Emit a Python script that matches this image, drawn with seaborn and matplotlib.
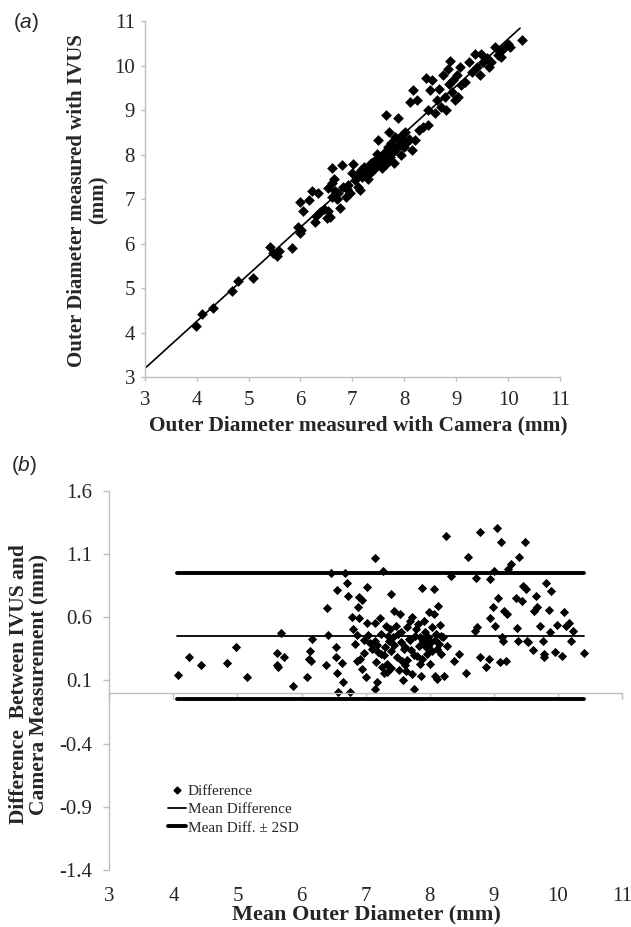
import matplotlib
matplotlib.use('Agg')
import matplotlib.pyplot as plt
import seaborn as sns
from matplotlib.lines import Line2D

# (a) outer diameter, camera vs IVUS (mm)
camera_od = [3.99, 4.11, 4.32, 4.69, 4.79, 5.08, 5.42, 5.48, 5.55, 5.58, 5.83, 5.95, 5.99, 6.01,
             5.99, 6.04, 6.17, 6.22, 6.28, 6.30, 6.34, 6.38, 6.46, 6.51, 6.53, 6.57, 6.53, 6.61,
             6.64, 6.67, 6.73, 6.77, 6.81, 6.82, 6.87, 6.92, 6.96, 7.00, 7.02, 7.05, 7.10, 7.14,
             7.16, 7.19, 7.23, 7.27, 7.31, 7.35, 7.39, 7.43, 7.47, 7.49, 7.50, 7.54, 7.58, 7.62,
             7.64, 7.66, 7.68, 7.70, 7.72, 7.75, 7.78, 7.80, 7.82, 7.85, 7.88, 7.89, 7.93, 7.96,
             7.99, 8.01, 8.05, 8.09, 8.11, 8.14, 8.16, 8.20, 8.24, 8.28, 8.36, 8.46, 8.42, 8.45,
             8.50, 8.53, 8.59, 8.63, 8.67, 8.71, 8.75, 8.79, 8.81, 8.84, 8.86, 8.89, 8.92, 8.94,
             8.98, 9.02, 9.04, 9.07, 9.10, 9.17, 9.25, 9.31, 9.37, 9.41, 9.46, 9.48, 9.52, 9.60,
             9.64, 9.68, 9.74, 9.80, 9.84, 9.87, 9.91, 9.99, 10.03, 10.26,
             7.08, 7.20, 7.33, 7.45, 7.56, 7.60, 7.70, 7.80, 7.90, 8.00, 7.65, 7.35, 6.70, 6.60,
             6.90, 6.60]
ivus_od = [4.15, 4.41, 4.55, 4.94, 5.15, 5.22, 5.92, 5.78, 5.72, 5.84, 5.89, 6.38, 6.23, 6.30,
           6.94, 6.74, 6.98, 7.19, 6.49, 6.62, 7.14, 6.71, 6.77, 6.57, 6.72, 6.60, 7.24, 7.69,
           7.46, 7.19, 7.13, 6.79, 7.76, 7.28, 7.05, 7.31, 7.13, 7.58, 7.79, 7.43, 7.28, 7.20,
           7.65, 7.50, 7.73, 7.58, 7.46, 7.80, 7.65, 7.88, 8.02, 8.32, 7.76, 7.95, 7.69, 8.06,
           8.88, 7.88, 8.17, 8.51, 7.95, 8.25, 8.06, 7.80, 8.40, 8.13, 8.81, 8.32, 7.98, 8.43,
           8.17, 8.51, 8.29, 8.36, 9.18, 8.10, 9.44, 8.32, 9.22, 8.55, 8.62, 8.66, 9.71, 9.00,
           9.44, 9.67, 8.94, 9.22, 9.48, 9.07, 9.78, 9.30, 9.00, 9.93, 9.59, 10.10, 9.41, 9.67,
           9.22, 9.78, 9.30, 9.97, 9.56, 9.63, 10.08, 9.86, 10.27, 9.97, 9.78, 10.27, 10.08, 10.16,
           9.97, 10.08, 10.42, 10.23, 10.34, 10.19, 10.38, 10.49, 10.42, 10.57,
           7.55, 7.62, 7.72, 7.83, 7.90, 8.00, 8.05, 8.15, 8.22, 8.30, 7.78, 7.60, 7.00, 7.05,
           7.22, 7.35]
fit_x = [3.0, 10.23]
fit_y = [3.19, 10.84]

# (b) Bland-Altman: mean diameter vs difference (mm)
mean_od = [4.07, 4.25, 4.43, 4.83, 4.97, 5.15, 5.61, 5.62, 5.68, 5.72, 5.64, 5.86, 6.09, 6.13,
           6.16, 6.11, 6.15, 6.40, 6.42, 6.38, 6.46, 6.54, 6.54, 6.56, 6.56, 6.57, 6.63, 6.65,
           6.68, 6.71, 6.73, 6.76, 6.79, 6.81, 6.83, 6.86, 6.87, 6.88, 6.89, 6.89, 6.91, 6.95,
           6.95, 6.98, 6.98, 7.00, 7.02, 7.02, 7.04, 7.07, 7.10, 7.14, 7.15, 7.15, 7.16, 7.17,
           7.15, 7.20, 7.22, 7.24, 7.25, 7.27, 7.28, 7.30, 7.32, 7.33, 7.34, 7.36, 7.38, 7.39,
           7.40, 7.42, 7.45, 7.47, 7.49, 7.50, 7.53, 7.55, 7.57, 7.58, 7.60, 7.62, 7.63, 7.64,
           7.67, 7.69, 7.71, 7.72, 7.73, 7.76, 7.77, 7.78, 7.80, 7.82, 7.83, 7.85, 7.87, 7.88,
           7.89, 7.91, 7.92, 7.94, 7.96, 7.98, 7.99, 8.01, 8.02, 8.04, 8.06, 8.07, 8.08, 8.10,
           8.11, 8.13, 8.14, 8.16, 8.18, 8.21, 8.23, 8.25, 8.27, 8.33, 8.38, 8.46, 8.56, 8.60,
           8.70, 8.72, 8.74, 8.78, 8.79, 8.88, 8.94, 8.94, 8.93, 8.99, 9.01, 9.02, 9.05, 9.07,
           9.11, 9.13, 9.14, 9.10, 9.19, 9.16, 9.21, 9.22, 9.27, 9.34, 9.36, 9.38, 9.40, 9.44,
           9.46, 9.49, 9.50, 9.52, 9.53, 9.61, 9.62, 9.66, 9.68, 9.72, 9.77, 9.78, 9.82, 9.79,
           9.89, 9.86, 9.88, 9.96, 9.98, 10.07, 10.09, 10.12, 10.18, 10.21, 10.24, 10.40,
           7.35, 7.45, 7.55, 7.62, 7.70, 7.75, 7.85, 7.92, 7.97, 8.03, 8.08, 8.12, 8.18, 7.88,
           7.40, 7.52, 7.65, 7.28, 7.18, 7.24]
diff_od = [0.146, 0.286, 0.223, 0.236, 0.361, 0.128, 0.316, 0.223, 0.474, 0.286, 0.207, 0.056,
           0.130, 0.331, 0.427, 0.270, 0.252, 0.673, 0.461, 0.223, 0.951, 0.281, 0.361, 0.816,
           0.159, 0.011, 0.236, 0.083, 0.951, 0.872, 0.768, 0.011, 0.604, 0.504, 0.384, 0.255,
           0.459, 0.681, 0.758, 0.594, 0.268, 0.737, 0.186, 0.419, 0.318, 0.128, 0.835, 0.554,
           0.459, 0.392, 0.347, 1.068, 0.554, 0.408, 0.247, 0.088, 0.035, 0.321, 0.594, 0.467,
           0.202, 0.962, 0.300, 0.361, 0.533, 0.162, 0.228, 0.414, 0.506, 0.784, 0.329, 0.440,
           0.652, 0.533, 0.281, 0.467, 0.625, 0.400, 0.255, 0.101, 0.347, 0.223, 0.175, 0.520,
           0.427, 0.572, 0.339, 0.599, 0.149, 0.035, 0.453, 0.506, 0.294, 0.546, 0.374, 0.228,
           0.136, 0.832, 0.414, 0.567, 0.480, 0.361, 0.308, 0.440, 0.639, 0.228, 0.400, 0.520,
           0.625, 0.824, 0.136, 0.467, 0.109, 0.684, 0.387, 0.541, 0.308, 0.440, 0.136, 1.245,
           0.374, 0.922, 0.255, 0.308, 0.157, 1.076, 0.488, 0.911, 0.525, 0.281, 1.274, 0.202,
           0.594, 0.903, 0.265, 0.678, 0.962, 0.527, 1.301, 0.753, 1.195, 0.445, 0.414, 0.241,
           0.255, 0.652, 0.625, 0.983, 1.023, 0.753, 0.514, 0.408, 1.076, 0.731, 0.843, 1.192,
           0.824, 0.414, 0.400, 0.339, 0.652, 0.768, 0.678, 0.533, 0.414, 0.308, 0.872, 0.286,
           0.803, 0.657, 0.485, 0.321, 0.538, 0.294, 0.639, 0.527, 0.551, 0.414, 0.488, 0.313,
           0.45, 0.38, 0.48, 0.36, 0.42, 0.30, 0.44, 0.40, 0.37, 0.33, 0.42, 0.35, 0.45, 0.27,
           0.20, 0.18, 0.26, 0.16, 0.38, 0.31]
mean_diff = 0.452
upper_lim = 0.949
lower_lim = -0.045
lim_x = [4.06, 10.40]

sns.set_style('white')
plt.rcParams['font.family'] = ['Liberation Serif', 'DejaVu Serif']
plt.rcParams['axes.unicode_minus'] = False
plt.rcParams['mathtext.fontset'] = 'custom'
plt.rcParams['mathtext.it'] = 'Liberation Sans:italic'
plt.rcParams['mathtext.rm'] = 'Liberation Sans'

grey = '#bfbfbf'
fig = plt.figure(figsize=(6.31, 9.27), dpi=100)
axa = fig.add_axes([0.2293, 0.5933, 0.6582, 0.384])
axb = fig.add_axes([0.1732, 0.0615, 0.8125, 0.4092])

# ---- panel (a)
sns.scatterplot(x=camera_od, y=ivus_od, ax=axa, marker='D', color='black', s=30, linewidth=0)
axa.plot(fit_x, fit_y, color='black', lw=1.2)
axa.set_xlim(3, 11)
axa.set_ylim(3, 11)
axa.set_xticks(range(3, 12))
axa.set_yticks(range(3, 12))
for s in ['top', 'right']:
    axa.spines[s].set_visible(False)
for s in ['left', 'bottom']:
    axa.spines[s].set_color(grey)
    axa.spines[s].set_linewidth(1)
axa.tick_params(bottom=True, left=True, direction='out', length=3, width=1, color=grey,
                labelsize=15)
axa.tick_params(axis='x', pad=7)
axa.tick_params(axis='y', pad=4)
axa.set_xlabel('Outer Diameter measured with Camera (mm)', fontsize=15.4, fontweight='bold')
axa.xaxis.set_label_coords(0.514, -0.135)
axa.xaxis.label.set_va('center')
axa.set_ylabel('Outer Diameter measured with IVUS\n(mm)', fontsize=15, fontweight='bold',
               linespacing=1.1)
axa.yaxis.set_label_coords(-0.1365, 0.497)
axa.yaxis.label.set_va('center')

# ---- panel (b)
sns.scatterplot(x=mean_od, y=diff_od, ax=axb, marker='D', color='black', s=22, linewidth=0)
axb.plot(lim_x, [mean_diff, mean_diff], color='black', lw=1.3)
axb.plot(lim_x, [upper_lim, upper_lim], color='black', lw=2.8)
axb.plot(lim_x, [lower_lim, lower_lim], color='black', lw=2.8)
axb.set_xlim(3, 11)
axb.set_ylim(-1.4, 1.6)
yt = [-1.4, -0.9, -0.4, 0.1, 0.6, 1.1, 1.6]
axb.set_yticks(yt)
axb.set_yticklabels(['%.1f' % v for v in yt])
axb.set_xticks(range(3, 12))
for s in ['top', 'right']:
    axb.spines[s].set_visible(False)
axb.spines['bottom'].set_position(('data', 0))
for s in ['left', 'bottom']:
    axb.spines[s].set_color(grey)
    axb.spines[s].set_linewidth(1)
axb.tick_params(axis='y', left=True, direction='out', length=4, width=1, color=grey,
                labelsize=15, pad=8)
axb.tick_params(axis='x', bottom=True, direction='out', length=4, width=1, color=grey,
                labelbottom=False)

# tick labels sit below the plot, the axis line itself crosses at 0
sec = axb.secondary_xaxis('bottom')
sec.set_xticks(range(3, 12))
sec.spines['bottom'].set_visible(False)
sec.tick_params(length=0, labelsize=15, pad=12)

axb.set_xlabel('Mean Outer Diameter (mm)', fontsize=16, fontweight='bold')
axb.xaxis.set_label_coords(0.5007, -0.1186)
axb.xaxis.label.set_va('center')

axb.set_ylabel('Difference  Between IVUS and\nCamera Measurement (mm)', fontsize=15.5,
               fontweight='bold', linespacing=1.05)
axb.yaxis.set_label_coords(-0.1566, 0.49)
axb.yaxis.label.set_va('center')

handles = [Line2D([], [], marker='D', color='black', ls='none', markersize=3.5),
           Line2D([], [], color='black', lw=1.3),
           Line2D([], [], color='black', lw=2.8)]
labels = ['Difference', 'Mean Difference', 'Mean Diff. \u00b1 2SD']
axb.legend(handles, labels, loc='upper left', bbox_to_anchor=(0.1145, 0.226), frameon=False,
           fontsize=11, handlelength=1.2, handletextpad=0.1, labelspacing=0.3,
           borderpad=0, borderaxespad=0)

fig.text(26 / 631, 1 - 22 / 927, r'($\mathit{a}$)', fontsize=15, family='Liberation Sans',
         ha='center', va='center')
fig.text(24 / 631, 1 - 465 / 927, r'($\mathit{b}$)', fontsize=15, family='Liberation Sans',
         ha='center', va='center')

fig.savefig('out.png', dpi=100)
